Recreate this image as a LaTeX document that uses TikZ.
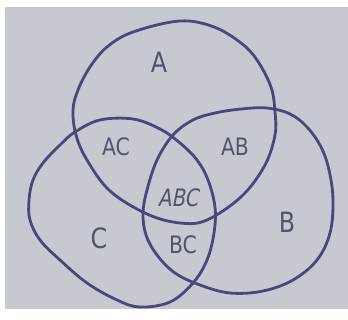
\documentclass[tikz,border=0pt]{standalone}
\usepackage{fontspec}
\setsansfont{DejaVu Sans}
\definecolor{paper}{RGB}{199,201,209}
\definecolor{ink}{RGB}{72,72,122}
\definecolor{pencil}{RGB}{82,84,108}
\begin{document}
\begin{tikzpicture}[x=1pt,y=-1pt,
  setline/.style={draw=ink,line width=2.8pt,line join=round},
  lbl/.style={text=pencil,font=\sffamily\fontsize{24}{24}\selectfont\addfontfeature{FakeStretch=0.85},inner sep=0pt},
  biglbl/.style={lbl,font=\sffamily\fontsize{28}{28}\selectfont\addfontfeature{FakeStretch=0.85}}]
\useasboundingbox (0,0) rectangle (348,320);
\fill[white] (0,0) rectangle (348,320);
\fill[paper] (5,7) rectangle (348,309);
% circle A
\draw[setline] plot[smooth cycle,tension=0.6] coordinates {
 (180,21) (214,27) (241,43) (257,60) (271,87) (275,112) (275,135) (265,165)
 (242,196) (207,220) (180,223) (147,214) (110,191) (87,160) (76,135) (73,110)
 (78,90) (90,67) (107,47) (133,32)};
% circle C
\draw[setline] plot[smooth cycle,tension=0.6] coordinates {
 (100,120) (133,119) (160,129) (180,143) (197,160) (208,180) (215,207) (214,233)
 (207,260) (193,283) (170,302) (140,307) (117,300) (87,283) (60,260) (40,240)
 (30,220) (29,200) (33,180) (43,163) (60,145) (75,132)};
% circle B
\draw[setline] plot[smooth cycle,tension=0.6] coordinates {
 (173,135) (193,120) (215,113) (241,109) (267,108) (290,114) (307,127) (321,147)
 (329,170) (333,200) (330,233) (317,260) (293,280) (263,291) (230,293) (200,285)
 (175,273) (157,255) (146,235) (143,213) (147,190) (157,160)};
\node[biglbl] (la) at (159,62) {A};
\node[lbl] (lac) at (116,147) {AC};
\node[lbl] (lab) at (235,147) {AB};
\node[lbl,font=\sffamily\fontsize{24}{24}\selectfont\addfontfeature{FakeStretch=0.82,FakeSlant=0.2}] (labc) at (178,198) {ABC};
\node[lbl] (lbc) at (183,245) {BC};
\node[biglbl] (lc) at (99,238) {C};
\node[biglbl] (lb) at (287,222) {B};
\end{tikzpicture}
\end{document}
